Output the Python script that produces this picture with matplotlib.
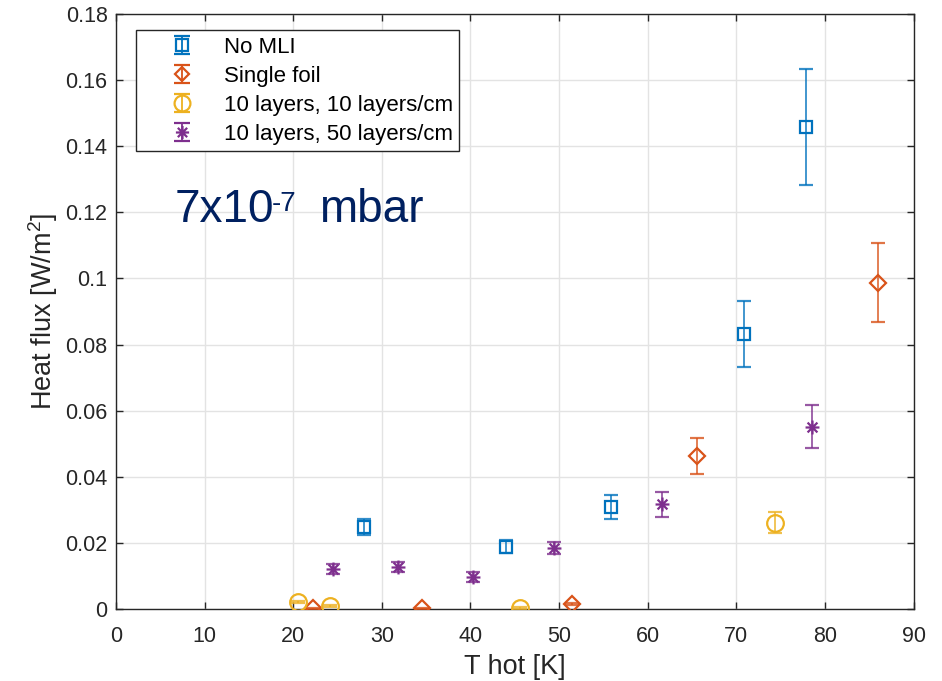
import numpy as np
import matplotlib
matplotlib.use("Agg")
import matplotlib.pyplot as plt
from matplotlib.path import Path
from matplotlib.legend_handler import HandlerErrorbar

plt.rcParams['font.family'] = ['Liberation Sans', 'DejaVu Sans']
plt.rcParams['mathtext.default'] = 'regular'

# --- data: hot-side temperature [K], heat flux [W/m^2], error bars (lower, upper) ---
no_mli_T = [28.0, 44.0, 55.9, 70.9, 77.9]
no_mli_q = [0.0248, 0.0188, 0.0309, 0.0832, 0.1458]
no_mli_lo = [0.0025, 0.0020, 0.0037, 0.0100, 0.0176]
no_mli_hi = [0.0025, 0.0020, 0.0036, 0.0100, 0.0175]

foil_T = [22.2, 34.5, 51.5, 65.6, 86.0]
foil_q = [0.0002, 0.0002, 0.0015, 0.0463, 0.0986]
foil_lo = [0.0002, 0.0002, 0.0004, 0.0055, 0.0118]
foil_hi = [0.0002, 0.0002, 0.0004, 0.0055, 0.0121]

l10_T = [20.5, 24.1, 45.6, 74.3]
l10_q = [0.0021, 0.0009, 0.0004, 0.0260]
l10_lo = [0.0004, 0.0004, 0.0003, 0.0030]
l10_hi = [0.0004, 0.0004, 0.0003, 0.0033]

l50_T = [24.5, 31.8, 40.3, 49.4, 61.6, 78.5]
l50_q = [0.0121, 0.0127, 0.0097, 0.0185, 0.0318, 0.0551]
l50_lo = [0.0015, 0.0015, 0.0015, 0.0018, 0.0039, 0.0064]
l50_hi = [0.0015, 0.0015, 0.0015, 0.0018, 0.0036, 0.0066]

labels = ["No MLI", "Single foil", "10 layers, 10 layers/cm", "10 layers, 50 layers/cm"]
colors = ["#0072BD", "#D95319", "#EDB120", "#7E2F8E"]

x_ticks = list(range(0, 91, 10))
y_ticks = [0, 0.02, 0.04, 0.06, 0.08, 0.1, 0.12, 0.14, 0.16, 0.18]
y_tick_labels = ["0", "0.02", "0.04", "0.06", "0.08", "0.1", "0.12", "0.14", "0.16", "0.18"]

# eight-armed asterisk marker
_s = 0.5
_d = _s / np.sqrt(2)
asterisk = Path(
    [(-_s, 0), (_s, 0), (0, -_s), (0, _s), (-_d, -_d), (_d, _d), (-_d, _d), (_d, -_d)],
    [Path.MOVETO, Path.LINETO] * 4,
)

fig = plt.figure(figsize=(9.42, 6.81), dpi=100)
ax = fig.add_axes([0.123, 0.1057, 0.847, 0.8737])

series = [
    (no_mli_T, no_mli_q, no_mli_lo, no_mli_hi, 's', 9),
    (foil_T, foil_q, foil_lo, foil_hi, 'D', 8),
    (l10_T, l10_q, l10_lo, l10_hi, 'o', 12),
    (l50_T, l50_q, l50_lo, l50_hi, asterisk, 10),
]

CAP = 5.2
for (T, q, lo, hi, mk, ms), c in zip(series, colors):
    ax.errorbar(T, q, yerr=[lo, hi], fmt='none', ecolor=c, elinewidth=1.3,
                capsize=CAP, capthick=1.6, alpha=0.8, zorder=3)
    ax.plot(T, q, linestyle='none', marker=mk, markersize=ms,
            markerfacecolor='none', markeredgecolor=c, markeredgewidth=1.6, zorder=4)

# legend entries: marker with its error bar
handles = []
for (T, q, lo, hi, mk, ms), lab, c in zip(series, labels, colors):
    h = ax.errorbar([np.nan], [np.nan], yerr=[[0.01], [0.01]], linestyle='none',
                    marker=mk, markersize=ms * 0.95, markerfacecolor='none',
                    markeredgecolor=c, markeredgewidth=1.6, ecolor=c,
                    elinewidth=1.3, capsize=6, capthick=1.6)
    handles.append(h)

leg = ax.legend(handles=handles, labels=labels, loc='upper left',
                bbox_to_anchor=(0.025, 0.973), fontsize=16, frameon=True,
                fancybox=False, edgecolor='#262626', framealpha=1,
                handlelength=3.6, handletextpad=0.05, borderpad=0.3,
                labelspacing=0.36, borderaxespad=0,
                handler_map={type(handles[0]): HandlerErrorbar(xerr_size=0.0, yerr_size=0.42)})
leg.get_frame().set_linewidth(1.0)

# pressure annotation: mantissa, superscript exponent, unit
t_main = ax.text(6.65, 0.117, "7x10", fontsize=33, color="#002060",
                 ha='left', va='baseline')
t_exp = ax.annotate("-7", xy=(1, 1), xycoords=t_main, xytext=(-1.5, -2.0),
                    textcoords='offset points', fontsize=20, color="#002060",
                    ha='left', va='top')
ax.annotate("mbar", xy=(1, 0), xycoords=(t_exp, t_main), xytext=(16, 0),
            textcoords='offset points', fontsize=33, color="#002060",
            ha='left', va='bottom')

ax.set_xlim(0, 90)
ax.set_ylim(0, 0.18)
ax.set_xticks(x_ticks)
ax.set_yticks(y_ticks)
ax.set_yticklabels(y_tick_labels)
ax.tick_params(direction='in', length=5, width=1, labelsize=15.5, colors='#262626',
               top=True, right=True)
ax.tick_params(axis='y', pad=6)
ax.tick_params(axis='x', pad=12)
ax.grid(True, color='#e3e3e3', linewidth=1)
ax.set_axisbelow(True)
for sp in ax.spines.values():
    sp.set_color('#262626')
    sp.set_linewidth(1)

ax.set_xlabel("T hot [K]", fontsize=19.5, color='#262626', labelpad=5)
ax.set_ylabel("Heat flux [W/m$^2$]", fontsize=19.5, color='#262626', labelpad=4)

fig.savefig("out.png", dpi=100, facecolor='white')
